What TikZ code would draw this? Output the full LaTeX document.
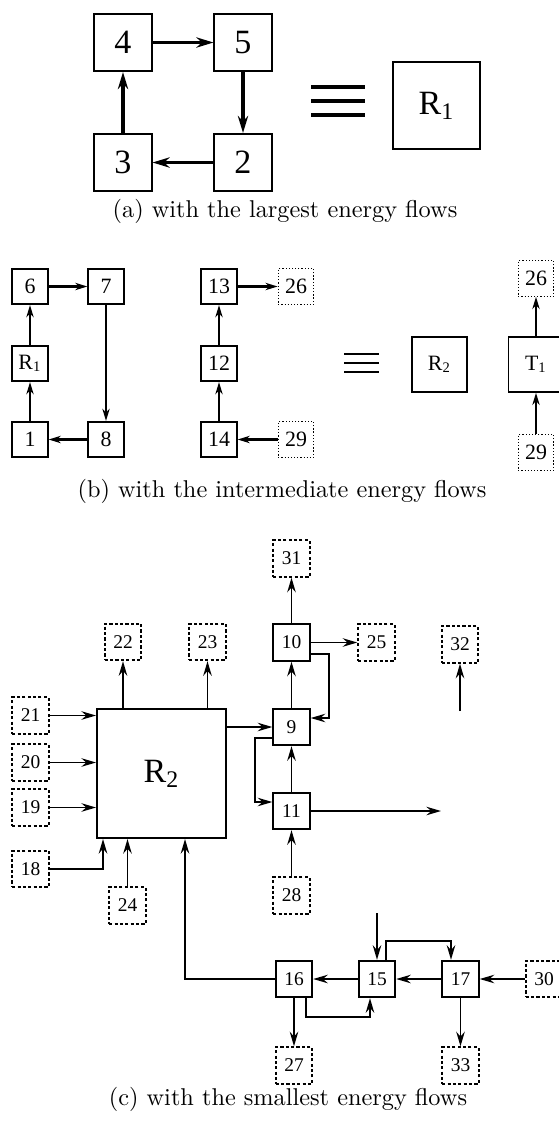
\documentclass[tikz,border=0pt]{standalone}
\usepackage{fontspec}
\newfontfamily\boxfont{Liberation Serif}
\usetikzlibrary{arrows.meta,calc}

\tikzset{
    blk/.style={draw,inner sep=0pt},
    blkA/.style={blk,line width=0.8pt,minimum size=23.5pt,font={\boxfont\fontsize{14}{14}\selectfont}},
    blkB/.style={blk,line width=0.7pt,minimum size=14.6pt,font={\boxfont\fontsize{9}{9}\selectfont}},
    dotB/.style={blkB,line width=0.5pt,dash pattern=on 0.5pt off 0.8pt},
    blkC/.style={blk,line width=0.8pt,minimum size=15pt,font={\boxfont\fontsize{8}{8}\selectfont}},
    dashC/.style={blkC,dash pattern=on 1.3pt off 0.9pt},
    arrA/.style={line width=1.35pt,-{Stealth[length=7pt,width=4.2pt,inset=2.2pt]}},
    arrB/.style={line width=1.1pt,-{Stealth[length=5pt,width=3pt,inset=1.6pt]}},
    arrC/.style={line width=0.75pt,-{Stealth[length=6pt,width=3.5pt,inset=2pt]}},
    capt/.style={anchor=base,inner sep=0pt,font=\fontsize{10}{12}\selectfont}
}

\begin{document}
\begin{tikzpicture}[x=0.4115pt,y=-0.4115pt]
    \useasboundingbox (0,0) rectangle (559,1123);
    % (a) largest energy flows
    \node[blkA] (n4) at (123,42.5) {4};
    \node[blkA] (n5) at (243,42.5) {5};
    \node[blkA] (n3) at (123,162.5) {3};
    \node[blkA] (n2) at (243,162.5) {2};
    \node[blkA,minimum size=35.8pt] (R1a) at (436.5,105.5) {R\textsubscript{1}};
    \draw[arrA] (n4) -- (n5);
    \draw[arrA] (n5) -- (n2);
    \draw[arrA] (n2) -- (n3);
    \draw[arrA] (n3) -- (n4);
    \foreach \y in {87,101,115}
        \draw[line width=1.65pt] (311,\y) -- (365,\y);
    \node[capt] (capA) at (285,217) {(a) with the largest energy flows};

    % (b) intermediate energy flows
    \node[blkB] (n6) at (30,286.5) {6};
    \node[blkB] (n7) at (106,286.5) {7};
    \node[blkB] (R1b) at (30,363.5) {R\textsubscript{1}};
    \node[blkB] (n1) at (30,439.5) {1};
    \node[blkB] (n8) at (106,439.5) {8};
    \node[blkB] (n13) at (219,286.5) {13};
    \node[blkB] (n12) at (219,363.5) {12};
    \node[blkB] (n14) at (219,439.5) {14};
    \node[dotB] (s26) at (296,286.5) {26};
    \node[dotB] (s29) at (296,439.5) {29};
    \node[blkB,minimum size=22.6pt] (R2b) at (439.5,364.5) {R\textsubscript{2}};
    \node[blkB,minimum size=22.6pt] (T1) at (536,364.5) {T\textsubscript{1}};
    \node[dotB] (t26) at (536,278.5) {26};
    \node[dotB] (t29) at (536,452.5) {29};
    \draw[arrB] (n6) -- (n7);
    \draw[arrB] (n7) -- (n8);
    \draw[arrB] (n8) -- (n1);
    \draw[arrB] (n1) -- (R1b);
    \draw[arrB] (R1b) -- (n6);
    \draw[arrB] (n14) -- (n12);
    \draw[arrB] (n12) -- (n13);
    \draw[arrB] (n13) -- (s26);
    \draw[arrB] (s29) -- (n14);
    \draw[arrB] (t29) -- (T1);
    \draw[arrB] (T1) -- (t26);
    \foreach \y in {354,363,372}
        \draw[line width=1.1pt] (344,\y) -- (379,\y);
    \node[capt] (capB) at (282,497) {(b) with the intermediate energy flows};

    % (c) smallest energy flows
    \node[blkC,minimum size=53.1pt,font={\boxfont\fontsize{14}{14}\selectfont}] (R2c) at (161.5,773.5) {R\textsubscript{2}};
    \node[blkC] (n10) at (291.5,642.5) {10};
    \node[blkC] (n9) at (291.5,727) {9};
    \node[blkC] (n11) at (291.5,811) {11};
    \node[blkC] (n16) at (294,979) {16};
    \node[blkC] (n15) at (377,979) {15};
    \node[blkC] (n17) at (460.5,979) {17};
    \node[dashC] (d31) at (291.5,558.5) {31};
    \node[dashC] (d22) at (123,642) {22};
    \node[dashC] (d23) at (207.5,642) {23};
    \node[dashC] (d25) at (376.5,642.5) {25};
    \node[dashC] (d32) at (460,644.5) {32};
    \node[dashC] (d21) at (30.5,715.5) {21};
    \node[dashC] (d20) at (30.5,762.5) {20};
    \node[dashC] (d19) at (30.5,807.5) {19};
    \node[dashC] (d18) at (30.5,869) {18};
    \node[dashC] (d24) at (127.5,905.5) {24};
    \node[dashC] (d28) at (291.5,895.5) {28};
    \node[dashC] (d30) at (544,979) {30};
    \node[dashC] (d27) at (294,1065.5) {27};
    \node[dashC] (d33) at (460.5,1065.5) {33};
    \coordinate (in32) at (460,711);
    \coordinate (out11) at (441,811);
    \coordinate (in15) at (377,913);
    % inputs and outputs of R2
    \draw[arrC] (d21) -- (d21 -| R2c.west);
    \draw[arrC] (d20) -- (d20 -| R2c.west);
    \draw[arrC] (d19) -- (d19 -| R2c.west);
    \draw[arrC] (d18.east) -| ($(R2c.south west)+(7,0)$);
    \draw[arrC] (d24) -- (d24 |- R2c.south);
    \draw[arrC] (n16.west) -| ($(R2c.south west)+(89,0)$);
    \draw[arrC] (R2c.north -| d22) -- (d22);
    \draw[arrC] (R2c.north -| d23) -- (d23);
    \draw[arrC] (R2c.east |- n9) -- (n9);
    % column 9, 10, 11
    \draw[arrC] (n9) -- (n10);
    \draw[arrC] (n10) -- (d31);
    \draw[arrC] (n10) -- (d25);
    \draw[arrC] (n11) -- (n9);
    \draw[arrC] (d28) -- (n11);
    \draw[arrC] ($(n9.west)+(0,11)$) -- ++(-17,0) |- ($(n11.west)+(0,-9)$);
    \draw[arrC] ($(n10.east)+(0,11.5)$) -- ++(18,0) |- ($(n9.east)+(0,-9)$);
    \draw[arrC] (n11) -- (out11);
    \draw[arrC] (in32) -- (d32);
    % row 16, 15, 17
    \draw[arrC] (in15) -- (n15);
    \draw[arrC] (n15) -- (n16);
    \draw[arrC] (n17) -- (n15);
    \draw[arrC] (d30) -- (n17);
    \draw[arrC] ($(n15.north)+(9,0)$) -- ++(0,-19) -| ($(n17.north)+(-9.5,0)$);
    \draw[arrC] ($(n16.south)+(12,0)$) -- ++(0,19) -| ($(n15.south)+(-7,0)$);
    \draw[arrC] (n16) -- (d27);
    \draw[arrC] (n17) -- (d33);
    \node[capt] (capC) at (288,1105) {(c) with the smallest energy flows};
\end{tikzpicture}
\end{document}
